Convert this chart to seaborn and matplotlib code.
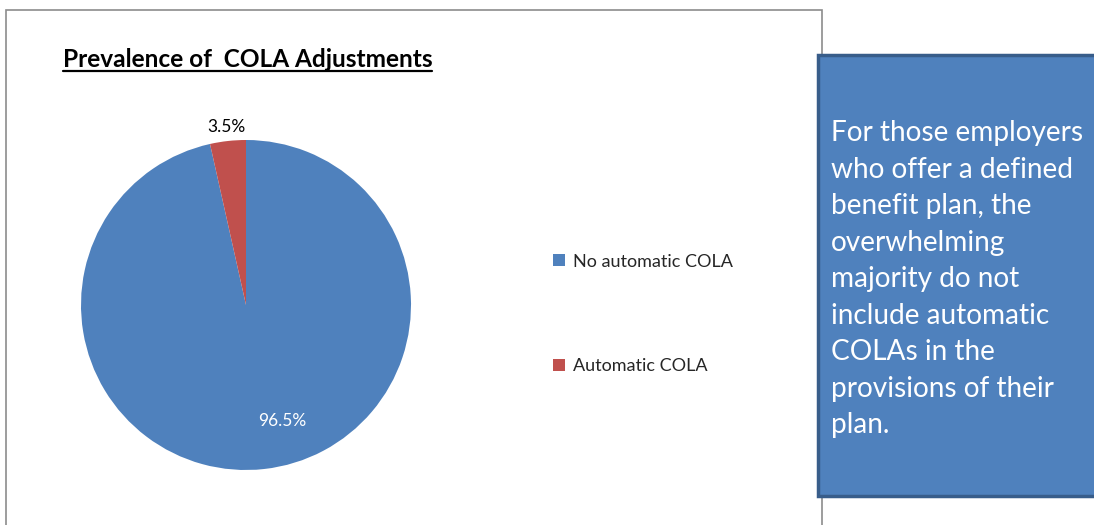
import matplotlib
matplotlib.use("Agg")
import matplotlib.pyplot as plt
import matplotlib.patches as mpatches
import seaborn as sns

# Data
categories = ["No automatic COLA", "Automatic COLA"]
shares = [96.5, 3.5]
colors = ["#4F81BD", "#C0504D"]
title = "Prevalence of  COLA Adjustments"
note = ("For those employers\nwho offer a defined\nbenefit plan, the\noverwhelming\n"
        "majority do not\ninclude automatic\nCOLAs in the\nprovisions of their\nplan.")

sns.set_theme(style="white")
plt.rcParams["font.family"] = ["Lato", "DejaVu Sans"]

W, H = 1094, 525
fig = plt.figure(figsize=(W / 100, H / 100), dpi=100)
fig.patch.set_facecolor("white")

def fx(px):
    return px / W

def fy(py):
    return 1 - py / H

# chart area border
fig.patches.append(mpatches.Rectangle((fx(6), fy(530)), fx(822) - fx(6), fy(10) - fy(530),
                                      transform=fig.transFigure, fill=False,
                                      edgecolor="#8c8c8c", linewidth=1.2, zorder=0))

# pie
r = 165
cx, cy = 246, 305
ax = fig.add_axes([fx(cx - r), fy(cy + r), 2 * r / W, 2 * r / H])
wedges, texts, autotexts = ax.pie(shares, colors=colors, startangle=90, counterclock=False,
                                  autopct="%1.1f%%", pctdistance=0.74, radius=1,
                                  wedgeprops=dict(linewidth=0),
                                  textprops=dict(fontsize=12.5))
ax.set_xlim(-1, 1)
ax.set_ylim(-1, 1)
ax.set_aspect("equal")
ax.axis("off")

autotexts[0].set_color("white")
autotexts[0].set_position((0.22, -0.7))
autotexts[1].set_color("black")
autotexts[1].set_position((-0.12, 1.08))

fig.text(fx(63), fy(67), title, fontsize=17.6, fontweight="bold", ha="left", va="baseline",
         color="black")
# underline for title
fig.add_artist(plt.Line2D([fx(63), fx(432)], [fy(70.5), fy(70.5)], color="black", linewidth=1.6))

# legend
leg = fig.legend(wedges, categories, loc="center left", bbox_to_anchor=(fx(537), fy(314)),
                 frameon=False, fontsize=13, handlelength=0.65, handleheight=0.65,
                 handletextpad=0.45, labelspacing=4.9)

# note box
fig.patches.append(mpatches.Rectangle((fx(818), fy(496)), fx(1100) - fx(818), fy(55) - fy(496),
                                      transform=fig.transFigure, facecolor="#4F81BD",
                                      edgecolor="#385D8A", linewidth=2.5, zorder=1))
fig.text(fx(831), fy(279), note, fontsize=20.2, color="white", ha="left", va="center",
         linespacing=1.5, zorder=2)

fig.savefig("out.png", dpi=100, facecolor="white")
